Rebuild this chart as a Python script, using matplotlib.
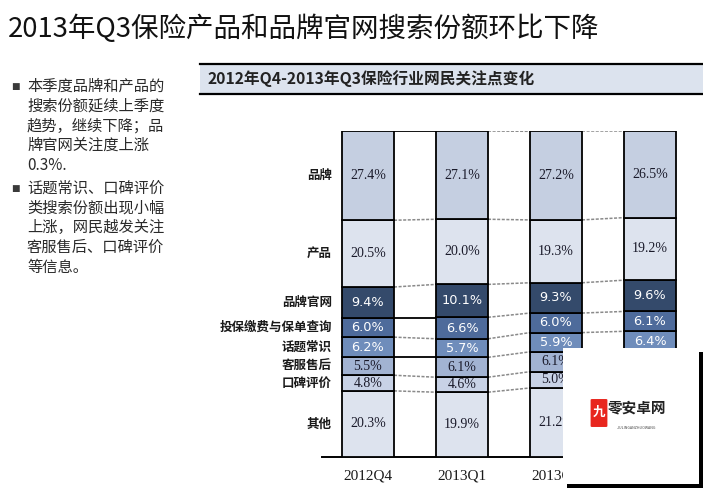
import matplotlib
matplotlib.use("Agg")
import matplotlib.pyplot as plt
from matplotlib.patches import Rectangle, FancyBboxPatch
from matplotlib.lines import Line2D
import numpy as np

plt.rcParams['font.family'] = ['Noto Sans CJK SC', 'DejaVu Sans']

quarters = ['2012Q4', '2013Q1', '2013Q2', '2013Q3']
categories = ['品牌', '产品', '品牌官网', '投保缴费与保单查询', '话题常识', '客服售后', '口碑评价', '其他']
brand = [27.4, 27.1, 27.2, 26.5]
product = [20.5, 20.0, 19.3, 19.2]
site = [9.4, 10.1, 9.3, 9.6]
policy = [6.0, 6.6, 6.0, 6.1]
topic = [6.2, 5.7, 5.9, 6.4]
service = [5.5, 6.1, 6.1, 5.9]
reputation = [4.8, 4.6, 5.0, 5.1]
other = [20.3, 19.9, 21.2, 21.2]

series_top_down = [brand, product, site, policy, topic, service, reputation, other]
colors_top_down = ['#C5CFE1', '#DDE3EE', '#344A6B', '#4E6B9B', '#6F8DBB', '#A2B3D2', '#C8D2E6', '#DDE3EE']
text_white = [False, False, True, True, True, False, False, False]

title = '2013年Q3保险产品和品牌官网搜索份额环比下降'
subtitle = '2012年Q4-2013年Q3保险行业网民关注点变化'
bullet1 = ['本季度品牌和产品的', '搜索份额延续上季度', '趋势，继续下降；品', '牌官网关注度上涨', '0.3%.']
bullet2 = ['话题常识、口碑评价', '类搜索份额出现小幅', '上涨，网民越发关注', '客服售后、口碑评价', '等信息。']

W, H = 703, 488
fig = plt.figure(figsize=(W / 100, H / 100), dpi=100)

def fx(px):
    return px / W

def fy(py):
    return 1 - py / H

# Title
fig.text(fx(8), fy(29), title, fontsize=19.8, color='#111111', va='center', ha='left')

# Bullets
for lines, y0 in ((bullet1, 86), (bullet2, 188)):
    fig.text(fx(15), fy(y0), '■', fontsize=6.5, color='#3a3a3a', va='center', ha='center', family='DejaVu Sans')
    for j, ln in enumerate(lines):
        fig.text(fx(27), fy(y0 + 19.8 * j), ln, fontsize=11, color='#2a2a2a', va='center', ha='left')

# Subtitle band
fig.add_artist(Rectangle((fx(200), fy(94)), 1 - fx(200), fy(64) - fy(94), transform=fig.transFigure,
                         facecolor='#DCE3EE', edgecolor='none', zorder=0))
fig.add_artist(Line2D([fx(200), 1], [fy(64), fy(64)], transform=fig.transFigure, color='black', lw=1.6))
fig.add_artist(Line2D([fx(200), 1], [fy(94), fy(94)], transform=fig.transFigure, color='black', lw=1.6))
fig.text(fx(208), fy(79), subtitle, fontsize=11.3, fontweight='bold', color='#222222', va='center', ha='left')

# Chart axes
left_px, right_px, top_px, bot_px = 322, 700, 131, 457
ax = fig.add_axes([fx(left_px), fy(bot_px), fx(right_px) - fx(left_px), fy(top_px) - fy(bot_px)])
pitch = 94.0
x0 = -(368 - left_px) / pitch
x1 = 3 + (right_px - 650) / pitch
ax.set_xlim(x0, x1)
ax.set_ylim(0, 100.1)
bw = 52 / pitch
x = np.arange(len(quarters))

series_bottom_up = series_top_down[::-1]
colors_bottom_up = colors_top_down[::-1]
white_bottom_up = text_white[::-1]
bottom = np.zeros(len(quarters))
bounds = []
for k, vals in enumerate(series_bottom_up):
    vals = np.array(vals)
    ax.bar(x, vals, bw, bottom=bottom, color=colors_bottom_up[k], edgecolor='black', linewidth=1.3, zorder=3)
    for i in range(len(quarters)):
        if white_bottom_up[k]:
            ax.text(x[i], bottom[i] + vals[i] / 2, f'{vals[i]:.1f}%', ha='center', va='center',
                    fontsize=9.3, color='white', family='DejaVu Sans', zorder=4)
        else:
            ax.text(x[i], bottom[i] + vals[i] / 2, f'{vals[i]:.1f}%', ha='center', va='center',
                    fontsize=10, color='#1a1a2a', family='Liberation Serif', zorder=4)
    bottom = bottom + vals
    bounds.append(bottom.copy())

# Connectors between bars (k index 0..7, bottom-up boundaries; last is top)
solid_gap0 = {7, 4, 2}
for g in range(len(quarters) - 1):
    xa, xb = x[g] + bw / 2, x[g + 1] - bw / 2
    for k, b in enumerate(bounds):
        if g == 0 and k in solid_gap0:
            ax.plot([xa, xb], [b[g], b[g]], color='black', lw=1.3, zorder=2, solid_capstyle='butt')
        else:
            ax.plot([xa, xb], [b[g], b[g + 1]], color='#8a8a8a', lw=1.1, ls=(0, (2, 1)), zorder=2)

# Category labels (beside first bar)
bottom0 = 0
centers = []
for vals in series_bottom_up:
    centers.append(bottom0 + vals[0] / 2)
    bottom0 += vals[0]
for lab, c in zip(categories[::-1], centers):
    ax.text(x0 + (332 - left_px) / pitch, c, lab, ha='right', va='center', fontsize=9,
            fontweight='bold', color='#1a1a1a', zorder=4)

ax.set_xticks(x)
ax.set_xticklabels(quarters, family='Liberation Serif', fontsize=11, color='#1a1a1a')
ax.tick_params(axis='x', length=0, pad=9)
ax.set_yticks([])
for s in ('left', 'right', 'top'):
    ax.spines[s].set_visible(False)
ax.spines['bottom'].set_linewidth(1.4)
ax.spines['bottom'].set_color('black')
ax.patch.set_alpha(0)

# Watermark overlay box with shadow (as in the reference)
fig.add_artist(Rectangle((fx(567), fy(488)), fx(703) - fx(567), fy(352) - fy(488), transform=fig.transFigure,
                         facecolor='black', edgecolor='none', zorder=10))
fig.add_artist(Rectangle((fx(563), fy(484)), fx(699) - fx(563), fy(348) - fy(484), transform=fig.transFigure,
                         facecolor='white', edgecolor='none', zorder=11))
fig.add_artist(FancyBboxPatch((fx(592), fy(426)), fx(606) - fx(592), fy(400) - fy(426),
                              boxstyle='round,pad=0.002', transform=fig.transFigure,
                              facecolor='#E8261E', edgecolor='none', zorder=12))
fig.text(fx(599), fy(412), '九', fontsize=9, color='white', ha='center', va='center', fontweight='bold', zorder=13)
fig.text(fx(608), fy(408), '零安卓网', fontsize=10.5, color='#222222', ha='left', va='center', fontweight='bold', zorder=13)
fig.text(fx(637), fy(428), 'JIULINGANZHUOWANG', fontsize=2.6, color='#444444', ha='center', va='center', zorder=13)

fig.savefig('out.png', dpi=100)
